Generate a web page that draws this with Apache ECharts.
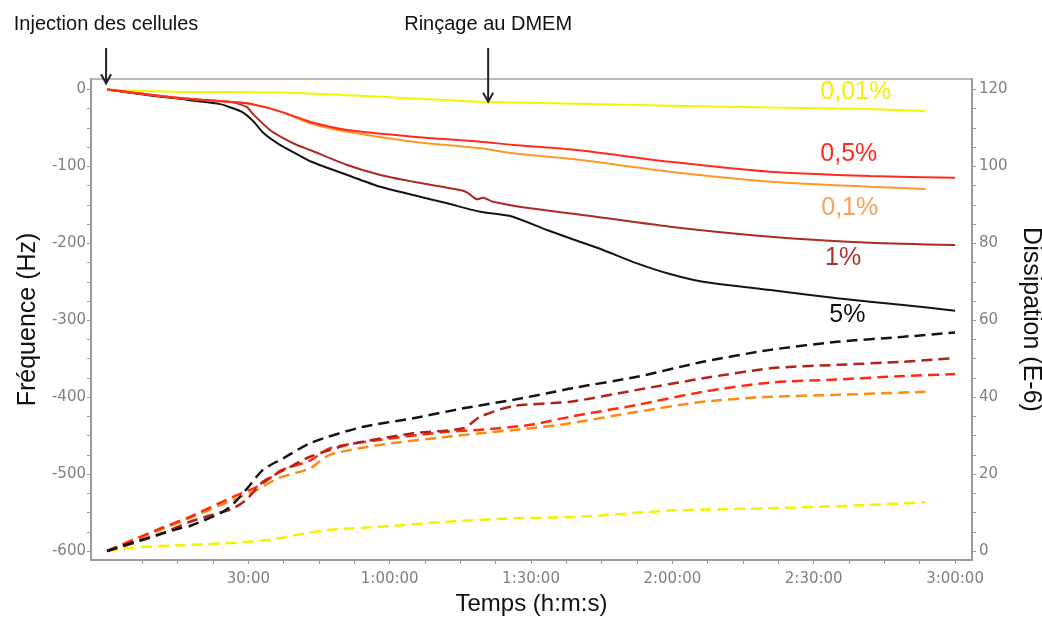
<!DOCTYPE html>
<html>
<head>
<meta charset="utf-8">
<script src="https://cdn.jsdelivr.net/npm/echarts@6/dist/echarts.min.js"></script>
<style>
html,body{margin:0;padding:0;background:#fff;}
#chart{width:1042px;height:617px;}
</style>
</head>
<body>
<div id="chart"></div>
<script>
// ---- Data (time in minutes) ----
// Frequency shift (Hz), solid lines, left axis
const freq_001 = [[0,0],[15,-3],[37,-4],[60,-10],[80,-16],[100,-18.5],[120,-21],[141,-23.5],[162,-25.5],[173.7,-28]];
const freq_05  = [[0,0],[15.5,-11],[29.7,-18],[31.8,-20.5],[34.6,-24.5],[38.9,-33],[43.4,-42.5],[51,-52.7],[65,-61.4],[79.2,-67.9],[86.2,-72],[98.3,-77.8],[119.5,-93.9],[140.8,-106.9],[162,-112.5],[180,-114.7]];
const freq_01  = [[0,0],[15.5,-11],[29.7,-18],[31.8,-20.5],[34.6,-24.5],[38.9,-33.5],[43.4,-44.5],[51,-54.9],[65,-67.9],[79.2,-76.5],[86.2,-83],[99,-90.5],[119.5,-106.9],[140.8,-119.9],[162,-126.4],[173.7,-129.4]];
const freq_1   = [[0,0],[15.5,-11.5],[26,-16],[27.6,-18],[29.7,-23],[31,-32],[34.6,-52.7],[37,-62],[40.3,-72.2],[43.1,-78.7],[51,-98.2],[58,-111.2],[65,-119.9],[74.9,-130.7],[76.5,-134],[78.6,-142.8],[79.8,-140.7],[81.9,-145.9],[89.8,-154.5],[99,-161.5],[119.5,-178.4],[140.8,-191.4],[162,-199.2],[180,-202.2]];
const freq_5   = [[0,0],[10,-8.5],[15.5,-12],[17.6,-14],[24,-19],[26.1,-23],[28.9,-30],[31,-41],[33.1,-56],[36.1,-69.6],[40,-83],[43.4,-93.9],[51,-111.2],[58,-126.4],[65,-137.2],[72.2,-148],[79.2,-158.9],[85.6,-164.5],[93.4,-182.7],[99,-195],[105.3,-208.7],[112.5,-226],[119.5,-239.9],[126.5,-249.9],[140.8,-260.7],[155,-271.5],[169,-280.2],[180,-287.6]];
// Dissipation (E-6), dashed lines, right axis
const diss_001 = [[0,0],[7,1],[17.6,1.6],[28.2,2.2],[35.2,3.0],[40.3,4.2],[47.3,5.5],[58,6.3],[72.2,7.6],[86.2,8.5],[100.4,8.9],[119.5,10.5],[140.8,11.1],[162,12.0],[173.7,12.7]];
const diss_05  = [[0,0],[10.6,5.5],[17.6,8.9],[26.8,14.1],[30.4,15.9],[33.1,17.6],[37,21],[43.1,23.5],[47.3,26.7],[58,28.9],[72.2,31.0],[79.2,31.5],[89.8,32.8],[98.3,34.9],[112.5,38.0],[126.5,41.4],[140.8,43.8],[155,44.6],[169,45.5],[180,46.0]];
const diss_01  = [[0,0],[10.6,5.2],[17.6,8.6],[26.8,13.3],[31,15.4],[36.5,19],[43.1,21.5],[47.3,25],[58,27.6],[72.2,29.7],[79.2,30.6],[89.8,31.9],[98.3,33.2],[112.5,36.2],[126.5,38.8],[140.8,40.1],[155,40.6],[173.7,41.4]];
const diss_1   = [[0,0],[10.6,4],[17.6,7.6],[22,9.3],[26.8,11.1],[29.7,13.5],[33.1,18],[38.9,21.9],[43.1,24.5],[51,27.6],[65,30.6],[75.6,31.9],[79.2,34.9],[86.2,37.7],[98.3,38.8],[112.5,41.9],[126.5,44.9],[140.8,47.5],[155,48.4],[169,49.2],[179,50.1]];
const diss_5   = [[0,0],[10.6,4.2],[15.5,5.9],[17.6,6.5],[24.6,10.2],[27,12.5],[29.7,16.2],[33.1,21.1],[37.4,24.1],[43.4,28.2],[54.4,32.3],[65,34.5],[75.6,37.1],[86.2,39.3],[93.4,41.0],[99,42.4],[112.5,45.3],[126.5,49.2],[140.8,52.3],[155,54.4],[169,55.7],[180,56.8]];

// Tick labels / tick positions
const xLabelValues = [30,60,90,120,150,180];
const xTickValues = [7.5,15,22.5,30,37.5,45,52.5,60,67.5,75,82.5,90,97.5,105,112.5,120,127.5,135,142.5,150,157.5,165,172.5,180];
const yLeftLabelValues = [0,-100,-200,-300,-400,-500,-600];
const yLeftTickValues = [0,-25,-50,-75,-100,-125,-150,-175,-200,-225,-250,-275,-300,-325,-350,-375,-400,-425,-450,-475,-500,-525,-550,-575,-600];
const yRightLabelValues = [0,20,40,60,80,100,120];
const yRightTickValues = [0,5,10,15,20,25,30,35,40,45,50,55,60,65,70,75,80,85,90,95,100,105,110,115,120];

// Series labels (text, anchor time, anchor Hz)
const seriesLabels = [
  {text:'0,01%', t:151.4, v:-3.3,  color:'#f2f200'},
  {text:'0,5%',  t:151.4, v:-83.9, color:'#ff2a1e'},
  {text:'0,1%',  t:151.6, v:-154,  color:'#f7a058'},
  {text:'1%',    t:152.4, v:-219,  color:'#a8352a'},
  {text:'5%',    t:153.3, v:-293,  color:'#111111'}
];
// Annotations (arrow time, arrow tip in Hz)
const annotations = [
  {text:'Injection des cellules', t:-0.2, tip:8},
  {text:'Rinçage au DMEM', t:80.9, tip:-16}
];

const colors = {c001:'#f5f500', c05:'#ff2a1e', c01:'#ff9628', c1:'#ab2b22', c5:'#141414'};
const dcolors = {c001:'#f5f000', c05:'#ff2a10', c01:'#ff8a10', c1:'#b02418', c5:'#141414'};

function fmtTime(m){
  const h = Math.floor(m/60), mm = Math.round(m%60);
  const p = (n)=> (n<10?'0':'')+n;
  return h>0 ? (h+':'+p(mm)+':00') : (mm+':00');
}

const chart = echarts.init(document.getElementById('chart'));
const tickFont = {fontFamily:'DejaVu Sans', fontSize:15, color:'#808080'};
const axisLineStyle = {color:'#9a9a9a', width:2};

function solid(name, data, color){
  return {name, type:'line', data, xAxisIndex:0, yAxisIndex:0, showSymbol:false, smooth:0.25,
    lineStyle:{color, width:2}, itemStyle:{color}, animation:false, z:3};
}
function dashed(name, data, color){
  return {name, type:'line', data, xAxisIndex:0, yAxisIndex:1, showSymbol:false, smooth:0.25,
    lineStyle:{color, width:2.5, type:[11,6]}, itemStyle:{color}, animation:false, z:2};
}

chart.setOption({
  animation:false,
  backgroundColor:'#fff',
  grid:{left:91, right:70, top:79, bottom:57, show:true, borderColor:'#a0a0a0', borderWidth:1.5,
        containLabel:false, outerBoundsMode:'none'},
  xAxis:{
    type:'value', min:-3.4, max:183.6,
    name:'Temps (h:m:s)', nameLocation:'middle', nameGap:30,
    nameTextStyle:{fontFamily:'Liberation Sans', fontSize:24, color:'#111'},
    axisLine:{show:true, onZero:false, lineStyle:axisLineStyle},
    axisTick:{show:true, length:4, customValues:xTickValues, lineStyle:{color:'#9a9a9a', width:1}},
    axisLabel:Object.assign({customValues:xLabelValues, margin:12, formatter:(v)=>fmtTime(v)}, tickFont),
    splitLine:{show:false}
  },
  yAxis:[
    {
      type:'value', min:-611.7, max:13.65, position:'left',
      name:'Fréquence (Hz)', nameLocation:'middle', nameGap:49, nameRotate:90,
      nameTextStyle:{fontFamily:'Liberation Sans', fontSize:25, color:'#111'},
      axisLine:{show:true, onZero:false, lineStyle:axisLineStyle},
      axisTick:{show:true, length:4, customValues:yLeftTickValues, lineStyle:{color:'#9a9a9a', width:1}},
      axisLabel:Object.assign({customValues:yLeftLabelValues, margin:5}, tickFont),
      splitLine:{show:false}
    },
    {
      type:'value', min:-2.34, max:122.73, position:'right',
      name:'Dissipation (E-6)', nameLocation:'middle', nameGap:40, nameRotate:-90,
      nameTextStyle:{fontFamily:'Liberation Sans', fontSize:25, color:'#111'},
      axisLine:{show:true, onZero:false, lineStyle:axisLineStyle},
      axisTick:{show:true, length:4, customValues:yRightTickValues, lineStyle:{color:'#9a9a9a', width:1}},
      axisLabel:Object.assign({customValues:yRightLabelValues, margin:7}, tickFont),
      splitLine:{show:false}
    }
  ],
  series:[
    dashed('D 0,01%', diss_001, dcolors.c001),
    dashed('D 0,1%', diss_01, dcolors.c01),
    dashed('D 0,5%', diss_05, dcolors.c05),
    dashed('D 1%', diss_1, dcolors.c1),
    dashed('D 5%', diss_5, dcolors.c5),
    solid('F 0,01%', freq_001, colors.c001),
    solid('F 5%', freq_5, colors.c5),
    solid('F 1%', freq_1, colors.c1),
    solid('F 0,1%', freq_01, colors.c01),
    solid('F 0,5%', freq_05, colors.c05)
  ]
});

// Graphic overlays positioned through the axes
const g = [];
seriesLabels.forEach(l=>{
  const p = chart.convertToPixel({xAxisIndex:0, yAxisIndex:0}, [l.t, l.v]);
  g.push({type:'text', x:p[0], y:p[1], z:10,
    style:{text:l.text, fill:l.color, font:'25px "Liberation Sans", Arial', textAlign:'left', textVerticalAlign:'middle'}});
});
annotations.forEach(a=>{
  const p = chart.convertToPixel({xAxisIndex:0, yAxisIndex:0}, [a.t, a.tip]);
  const x = p[0], tip = p[1], top = 48;
  g.push({type:'text', x:x, y:24, z:10,
    style:{text:a.text, fill:'#111', font:'20px "Liberation Sans", Arial', textAlign:'center', textVerticalAlign:'middle'}});
  g.push({type:'line', z:10, shape:{x1:x, y1:top, x2:x, y2:tip-1}, style:{stroke:'#222', lineWidth:2}});
  g.push({type:'polyline', z:10, shape:{points:[[x-5, tip-9],[x, tip],[x+5, tip-9]]}, style:{stroke:'#222', lineWidth:2, fill:null}});
});
chart.setOption({graphic:g});
</script>
</body>
</html>
